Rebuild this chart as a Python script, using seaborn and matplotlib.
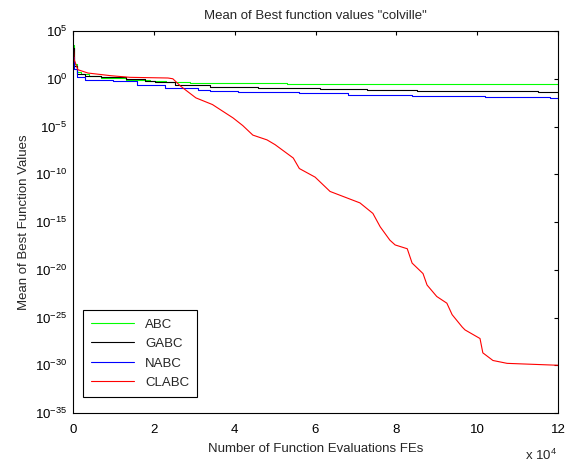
import numpy as np
import pandas as pd
import matplotlib
matplotlib.use("Agg")
import matplotlib.pyplot as plt
import matplotlib.ticker as mticker
import seaborn as sns

# Datos (x en unidades de 10^4 FEs, y como exponente log10)
abc_x = [0, 0.03, 0.1, 0.2, 0.4, 0.7, 1.3, 1.9, 2.3, 2.9, 5.3, 12]
abc_log = [3.5, 1.5, 0.7, 0.45, 0.25, 0.08, -0.1, -0.2, -0.34, -0.47, -0.58, -0.58]

gabc_x = [0, 0.03, 0.1, 0.3, 0.7, 1.3, 1.78, 2.03, 2.52, 3.4, 4.58, 6.1, 7.27, 8.5, 11.5, 12]
gabc_log = [3.2, 1.3, 0.5, 0.3, 0.15, 0.0, -0.2, -0.38, -0.62, -0.83, -0.97, -1.05, -1.18, -1.28, -1.4, -1.4]

nabc_x = [0, 0.02, 0.1, 0.3, 1.0, 1.58, 2.28, 3.1, 3.4, 4.08, 5.6, 6.8, 8.39, 10.2, 11.8, 12]
nabc_log = [2.3, 1.0, 0.15, -0.1, -0.27, -0.7, -0.97, -1.15, -1.28, -1.42, -1.52, -1.66, -1.8, -1.9, -2.0, -2.0]

clabc_x = [0, 0.03, 0.12, 0.37, 0.94, 1.41, 2.35, 2.47, 2.67, 3.04, 3.45, 3.96, 4.2, 4.45,
           4.8, 5.0, 5.45, 5.6, 5.99, 6.36, 6.73, 7.1, 7.42, 7.6, 7.84, 7.97, 8.27, 8.39,
           8.66, 8.76, 9.0, 9.25, 9.38, 9.63, 9.7, 10.07, 10.14, 10.39, 10.74, 12.0]
clabc_log = [4.0, 2.0, 0.95, 0.6, 0.32, 0.15, 0.08, 0.0, -0.8, -2.0, -2.7, -4.1, -4.9, -5.9,
             -6.4, -6.9, -8.3, -9.4, -10.3, -11.8, -12.4, -13.0, -14.1, -15.5, -16.9, -17.4, -17.8, -19.3,
             -20.4, -21.6, -22.8, -23.5, -24.7, -26.0, -26.3, -27.2, -28.7, -29.5, -29.8, -30.0]

x_ticks = [0, 2, 4, 6, 8, 10, 12]
y_exps = [5, 0, -5, -10, -15, -20, -25, -30, -35]

sns.set_style("white")
plt.rcParams["font.family"] = ["Liberation Sans", "DejaVu Sans"]
plt.rcParams["mathtext.fontset"] = "custom"
plt.rcParams["mathtext.rm"] = "Liberation Sans"

fig = plt.figure(figsize=(5.77, 4.65), dpi=100)
ax = fig.add_axes([0.1265, 0.1118, 0.8406, 0.8215])

series = [
    ("ABC", abc_x, abc_log, "#00ff00", "steps-post"),
    ("GABC", gabc_x, gabc_log, "#000000", "steps-post"),
    ("NABC", nabc_x, nabc_log, "#0000ff", "steps-post"),
    ("CLABC", clabc_x, clabc_log, "#ff0000", "default"),
]
for nombre, xs, logs, color, estilo in series:
    df = pd.DataFrame({"FEs": np.array(xs) * 1e4, "valor": 10.0 ** np.array(logs)})
    sns.lineplot(data=df, x="FEs", y="valor", ax=ax, color=color, linewidth=0.8,
                 drawstyle=estilo, label=nombre)

ax.set_yscale("log")
ax.set_xlim(0, 12e4)
ax.set_ylim(1e-35, 1e5)
ax.yaxis.set_major_locator(mticker.FixedLocator([10.0 ** e for e in y_exps]))
ax.yaxis.set_minor_locator(mticker.NullLocator())
ax.yaxis.set_major_formatter(mticker.FuncFormatter(lambda v, p: r"$10^{%d}$" % round(np.log10(v))))
ax.xaxis.set_major_locator(mticker.FixedLocator([t * 1e4 for t in x_ticks]))
ax.xaxis.set_major_formatter(mticker.FuncFormatter(lambda v, p: "%d" % round(v / 1e4)))

ax.tick_params(direction="in", length=3, width=0.8, top=True, right=True,
               labelsize=9.5, colors="black", pad=4)
ax.tick_params(axis="x", pad=8)
for s in ax.spines.values():
    s.set_color("black")
    s.set_linewidth(0.8)

ax.set_title('Mean of Best function values "colville"', fontsize=9.5, pad=9)
ax.set_xlabel("Number of Function Evaluations FEs", fontsize=9.5, labelpad=5)
ax.set_ylabel("Mean of Best Function Values", fontsize=9.5, labelpad=4)
fig.text(0.91, 0.004, r"x $10^{4}$", fontsize=9.5, ha="left", va="bottom")

leg = ax.legend(loc="lower left", bbox_to_anchor=(0.0206, 0.042), borderaxespad=0,
                fontsize=9.5, fancybox=False, framealpha=1, edgecolor="black",
                handlelength=3.3, borderpad=0.6, labelspacing=0.55)
leg.get_frame().set_linewidth(0.8)

fig.savefig("out.png", dpi=100)
